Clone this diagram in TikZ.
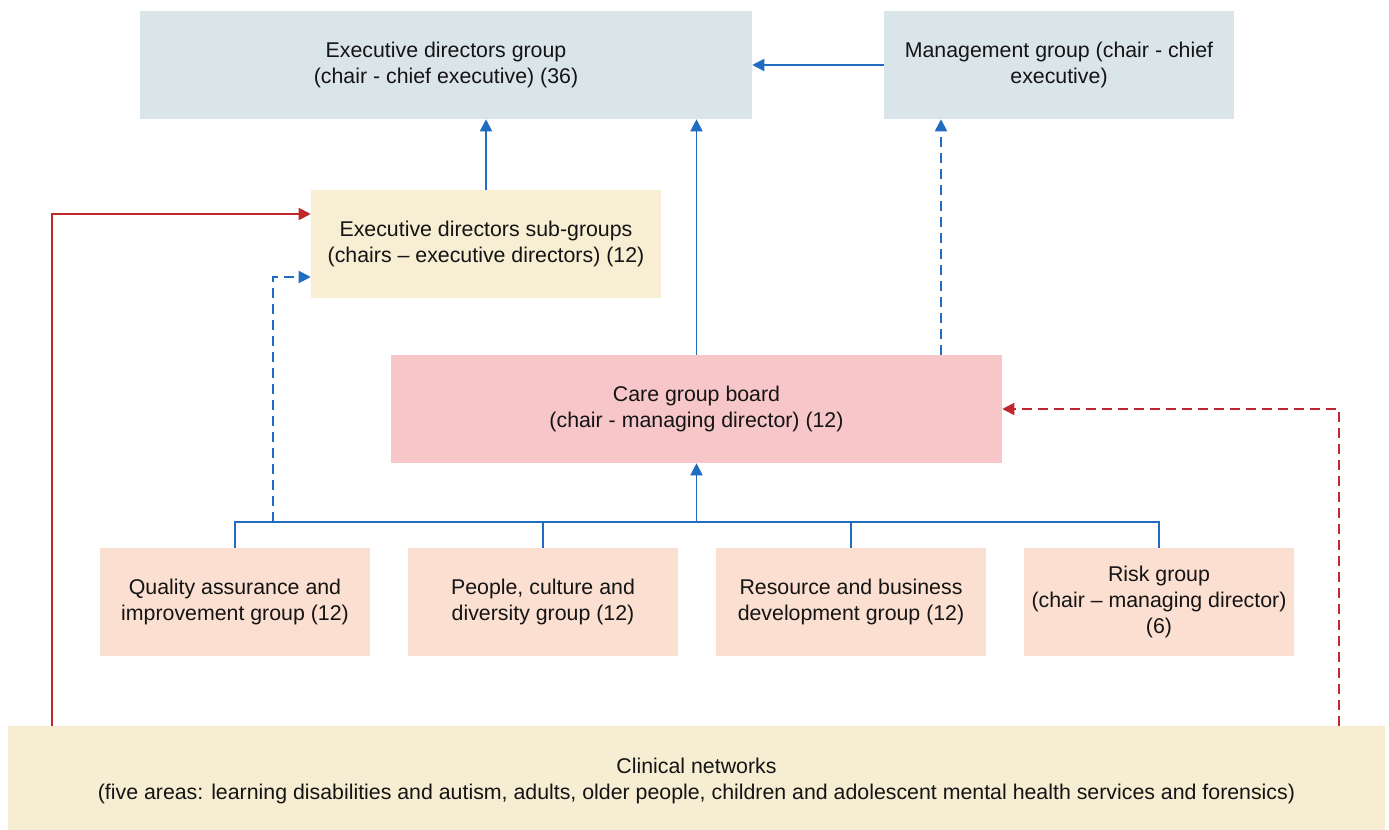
\documentclass[tikz,border=0pt]{standalone}
\usepackage{fontspec}
\setmainfont{Liberation Sans}
\usetikzlibrary{arrows.meta}
\definecolor{bluebox}{HTML}{DAE5EA}
\definecolor{creambox}{HTML}{F8EED3}
\definecolor{pinkbox}{HTML}{F7C6C8}
\definecolor{peachbox}{HTML}{FBDFD0}
\definecolor{clinbox}{HTML}{F7EDD3}
\definecolor{lineblue}{HTML}{1F6CC0}
\definecolor{linered}{HTML}{C0272D}
\tikzset{
  box/.style={inner sep=0pt, align=center, font=\fontsize{16}{19.5}\selectfont, text=black!92},
  conn/.style={line width=1.4pt},
  arr/.style={conn, -{Triangle[length=9pt,width=9pt]}},
  dsh/.style={dash pattern=on 7.5pt off 4.5pt},
}
\begin{document}
\begin{tikzpicture}[x=0.75pt,y=-0.75pt]
\useasboundingbox (0,0) rectangle (1389,830);
\node[box, fill=bluebox, minimum width=459pt, minimum height=81pt] (exec) at (446,65) {Executive directors group\\(chair - chief executive) (36)};
\node[box, fill=bluebox, minimum width=262.5pt, minimum height=81pt] (mgmt) at (1059,65) {Management group (chair - chief\\executive)};
\node[box, fill=creambox, minimum width=262.5pt, minimum height=81pt] (sub) at (486,244) {Executive directors sub-groups\\(chairs -- executive directors) (12)};
\node[box, fill=pinkbox, minimum width=458.25pt, minimum height=81pt] (care) at (696.5,409) {Care group board\\(chair - managing director) (12)};
\node[box, fill=peachbox, minimum width=202.5pt, minimum height=81pt] (qa) at (235,602) {Quality assurance and\\improvement group (12)};
\node[box, fill=peachbox, minimum width=202.5pt, minimum height=81pt] (pc) at (543,602) {People, culture and\\diversity group (12)};
\node[box, fill=peachbox, minimum width=202.5pt, minimum height=81pt] (rb) at (851,602) {Resource and business\\development group (12)};
\node[box, fill=peachbox, minimum width=202.5pt, minimum height=81pt] (risk) at (1159,602) {Risk group\\(chair -- managing director)\\(6)};
\node[box, fill=clinbox, minimum width=1032.75pt, minimum height=82.5pt] (clin) at (696.5,781) {Clinical networks\\(five areas: learning disabilities and autism, adults, older people, children and adolescent mental health services and forensics)};

\coordinate (bus) at (0,522);
\coordinate (cm) at (941,0);
\coordinate (qd) at (273,522);
\coordinate (qdy) at (0,277);
\coordinate (rs) at (52,726);
\coordinate (rsy) at (0,214);
\coordinate (rd) at (1339,726);

% top connectors
\draw[arr, lineblue] (mgmt.west) -- (exec.east);
\draw[arr, lineblue] (sub.north) -- (sub.north |- exec.south);
\draw[arr, lineblue] (care.north) -- (care.north |- exec.south);
\draw[arr, lineblue, dsh] (care.north -| cm) -- (mgmt.south -| cm);

% bus
\draw[conn, lineblue] (qa.north) -- (qa.north |- bus) -- (risk.north |- bus) -- (risk.north);
\draw[conn, lineblue] (pc.north) -- (pc.north |- bus);
\draw[conn, lineblue] (rb.north) -- (rb.north |- bus);
\draw[arr, lineblue] (care.south |- bus) -- (care.south);

% dashed blue to sub-groups
\draw[arr, lineblue, dsh] (qd) -- (qd |- qdy) -- (sub.west |- qdy);

% red connectors
\draw[arr, linered] (rs) -- (rs |- rsy) -- (sub.west |- rsy);
\draw[arr, linered, dsh] (rd) -- (rd |- care.east) -- (care.east);
\end{tikzpicture}
\end{document}
